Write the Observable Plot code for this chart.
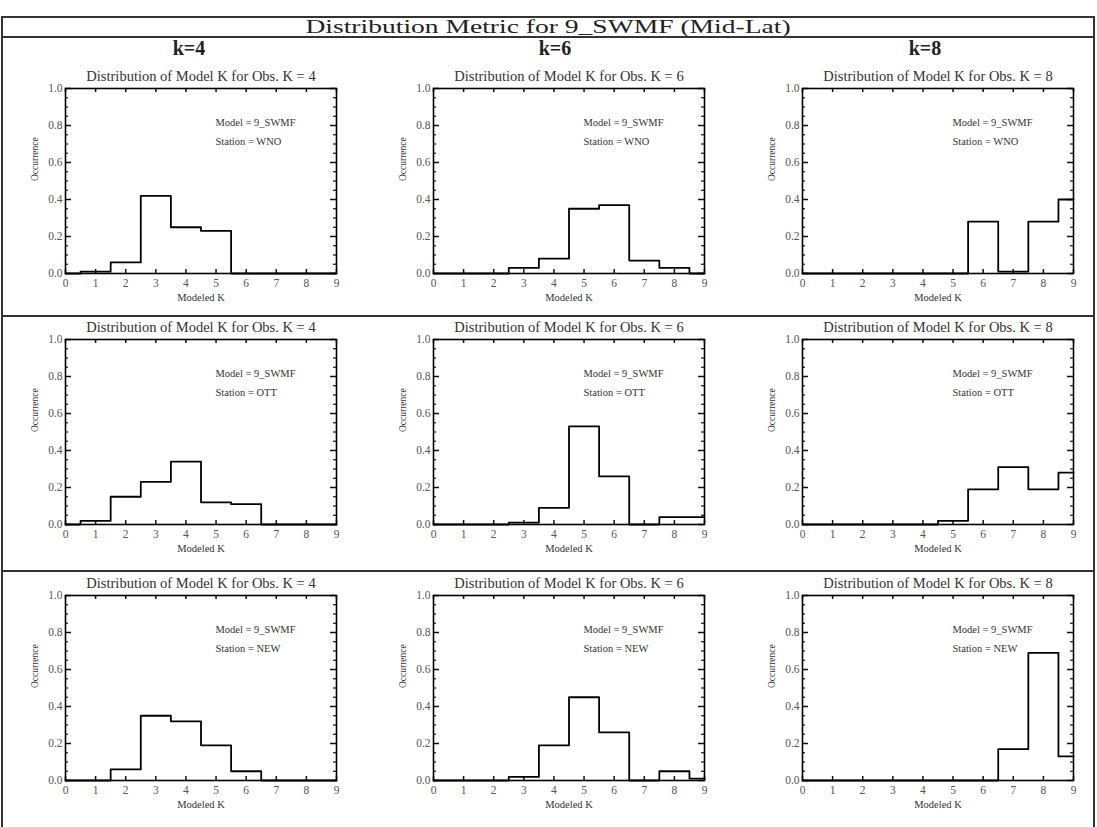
<!DOCTYPE html>
<html>
<head>
<meta charset="utf-8">
<script src="https://cdn.jsdelivr.net/npm/d3@7"></script>
<script src="https://cdn.jsdelivr.net/npm/@observablehq/plot@0.6"></script>
<style>
  html, body { margin: 0; padding: 0; background: #fff; }
  #page { position: relative; width: 1097px; height: 827px; overflow: hidden; background: #fff; font-family: "Liberation Serif", "DejaVu Serif", serif; color: #222; }
  .hline { position: absolute; left: 1px; width: 1094px; background: #333; }
  .vline { position: absolute; top: 16px; width: 2px; height: 811px; background: #333; }
  .panel { position: absolute; }
  .panel svg text { font-family: "Liberation Serif", serif; }
  .panel svg g[aria-label^="x-axis"] text, .panel svg g[aria-label^="y-axis"] text { font-size: 11.5px; fill: #555; }
  .hdr { position: absolute; font-size: 20px; line-height: 20px; font-weight: bold; text-align: center; transform: translateX(-50%); white-space: nowrap; color: #222; }
  #title { position: absolute; left: 548px; top: 17px; line-height: 19px; transform: translateX(-50%) scaleX(1.45); font-size: 19px; white-space: nowrap; color: #222; }
</style>
</head>
<body>
<div id="page">
  <div class="hline" style="top:16px;height:2px"></div>
  <div id="title">Distribution Metric for 9_SWMF (Mid-Lat)</div>
  <div class="hline" style="top:36px;height:2px"></div>
  <div class="hline" style="top:315px;height:2px"></div>
  <div class="hline" style="top:570px;height:2px"></div>
  <div class="vline" style="left:1px"></div>
  <div class="vline" style="left:1093px"></div>
</div>
<script>
// ---- data ----
const modeledK = [0, 1, 2, 3, 4, 5, 6, 7, 8, 9];
const obsKs = [4, 6, 8];
const stations = ["WNO", "OTT", "NEW"];
const modelName = "9_SWMF";
const xTicks = [0, 1, 2, 3, 4, 5, 6, 7, 8, 9];
const yTicks = [0, 0.2, 0.4, 0.6, 0.8, 1.0];
const yMinorTicks = [0.05, 0.1, 0.15, 0.25, 0.3, 0.35, 0.45, 0.5, 0.55, 0.65, 0.7, 0.75, 0.85, 0.9, 0.95];

const occWNO_K4 = [0, 0.01, 0.06, 0.42, 0.25, 0.23, 0, 0, 0, 0];
const occWNO_K6 = [0, 0, 0, 0.03, 0.08, 0.35, 0.37, 0.07, 0.03, 0];
const occWNO_K8 = [0, 0, 0, 0, 0, 0, 0.28, 0.01, 0.28, 0.40];
const occOTT_K4 = [0, 0.02, 0.15, 0.23, 0.34, 0.12, 0.11, 0, 0, 0];
const occOTT_K6 = [0, 0, 0, 0.01, 0.09, 0.53, 0.26, 0, 0.04, 0.04];
const occOTT_K8 = [0, 0, 0, 0, 0, 0.02, 0.19, 0.31, 0.19, 0.28];
const occNEW_K4 = [0, 0, 0.06, 0.35, 0.32, 0.19, 0.05, 0, 0, 0];
const occNEW_K6 = [0, 0, 0, 0.02, 0.19, 0.45, 0.26, 0, 0.05, 0.01];
const occNEW_K8 = [0, 0, 0, 0, 0, 0, 0, 0.17, 0.69, 0.13];

const series = {
  WNO: [occWNO_K4, occWNO_K6, occWNO_K8],
  OTT: [occOTT_K4, occOTT_K6, occOTT_K8],
  NEW: [occNEW_K4, occNEW_K6, occNEW_K8]
};

// ---- layout ----
const colFrameX = [65, 433, 802];
const rowFrameY = [88, 339, 595];
const frameW = 271, frameH = 185;
const mL = 45, mR = 10, mT = 26, mB = 36;
const hdrX = [189, 555, 925];
const serif = "Liberation Serif";

const page = document.getElementById("page");
obsKs.forEach((k, c) => {
  const h = document.createElement("div");
  h.className = "hdr";
  h.style.left = hdrX[c] + "px";
  h.style.top = "38px";
  h.textContent = "k=" + k;
  page.appendChild(h);
});

const tx = 4 / frameH;          // x-tick length in y units
const tyMaj = 6 / frameW * 9;   // y major tick length in x units
const tyMin = 3 / frameW * 9;

stations.forEach((st, r) => {
  obsKs.forEach((k, c) => {
    const data = modeledK.map((m, i) => ({k: m, v: series[st][c][i]}));
    const chart = Plot.plot({
      width: frameW + mL + mR,
      height: frameH + mT + mB,
      marginLeft: mL, marginRight: mR, marginTop: mT, marginBottom: mB,
      style: {fontFamily: serif, fontSize: "11.5px", color: "#555", background: "transparent"},
      x: {domain: [0, 9], ticks: xTicks, tickSize: 0, tickPadding: 5, label: null, tickFormat: d3.format("d")},
      y: {domain: [0, 1], ticks: yTicks, tickSize: 0, tickPadding: 3, label: null, tickFormat: d3.format(".1f")},
      marks: [
        Plot.ruleX(xTicks, {x: d => d, y1: 0, y2: tx, stroke: "#111", strokeWidth: 1.5}),
        Plot.ruleX(xTicks, {x: d => d, y1: 1 - tx, y2: 1, stroke: "#111", strokeWidth: 1.5}),
        Plot.ruleY(yTicks, {y: d => d, x1: 0, x2: tyMaj, stroke: "#111", strokeWidth: 1.5}),
        Plot.ruleY(yTicks, {y: d => d, x1: 9 - tyMaj, x2: 9, stroke: "#111", strokeWidth: 1.5}),
        Plot.ruleY(yMinorTicks, {y: d => d, x1: 0, x2: tyMin, stroke: "#111", strokeWidth: 1.2}),
        Plot.ruleY(yMinorTicks, {y: d => d, x1: 9 - tyMin, x2: 9, stroke: "#111", strokeWidth: 1.2}),
        Plot.line(data, {x: "k", y: "v", curve: "step", stroke: "#000", strokeWidth: 1.8}),
        Plot.frame({stroke: "#000", strokeWidth: 1.6}),
        Plot.text(["Distribution of Model K for Obs. K = " + k], {text: d => d, frameAnchor: "top", dy: -12, lineAnchor: "middle", fontSize: 14.5, fontFamily: serif, fill: "#333"}),
        Plot.text(["Model = " + modelName], {text: d => d, frameAnchor: "top-left", dx: 150, dy: 34, textAnchor: "start", lineAnchor: "middle", fontSize: 10.5, fontFamily: serif, fill: "#333"}),
        Plot.text(["Station = " + st], {text: d => d, frameAnchor: "top-left", dx: 150, dy: 53, textAnchor: "start", lineAnchor: "middle", fontSize: 10.5, fontFamily: serif, fill: "#333"}),
        Plot.text(["Occurrence"], {text: d => d, frameAnchor: "left", dx: -31, rotate: -90, lineAnchor: "middle", fontSize: 9.5, fontFamily: serif, fill: "#333"}),
        Plot.text(["Modeled K"], {text: d => d, frameAnchor: "bottom", dy: 24, lineAnchor: "middle", fontSize: 10.5, fontFamily: serif, fill: "#333"})
      ]
    });
    const wrap = document.createElement("div");
    wrap.className = "panel";
    wrap.style.left = (colFrameX[c] - mL) + "px";
    wrap.style.top = (rowFrameY[r] - mT) + "px";
    wrap.appendChild(chart);
    page.appendChild(wrap);
  });
});
</script>
</body>
</html>
